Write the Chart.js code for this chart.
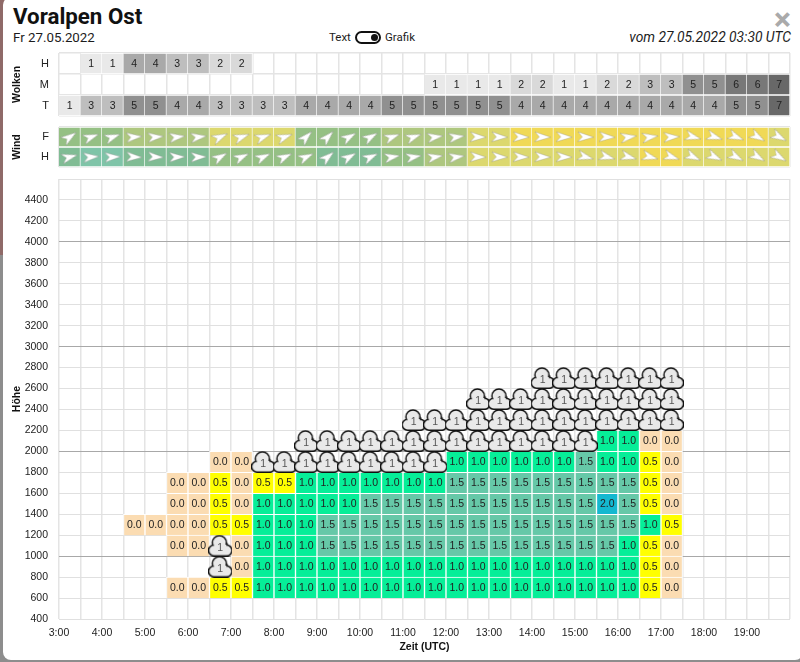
<!DOCTYPE html>
<html>
<head>
<meta charset="utf-8">
<title>Voralpen Ost</title>
<script src="https://cdn.jsdelivr.net/npm/chart.js@4/dist/chart.umd.min.js"></script>
<style>
    html, body { margin: 0; padding: 0; width: 800px; height: 662px; overflow: hidden; }
    body { background: linear-gradient(#8f6a68 0, #8f6a68 255px, #8d8d8d 255px, #8d8d8d 662px); }
    #modal { position: absolute; left: 3px; top: -3px; width: 800px; height: 663px; background: #fff; border-radius: 8px; }
    canvas { position: absolute; left: 0; }
    .txt { position: absolute; font-family: Roboto, sans-serif; color: #1c1c1c; white-space: nowrap; }
    #title { left: 13px; top: 3px; font-size: 22.3px; font-weight: 700; line-height: 26px; color: #111; }
    #date { left: 13px; top: 30px; font-size: 13.3px; line-height: 15px; }
    #run { right: 9px; top: 30px; font-size: 13.8px; line-height: 15px; font-style: italic; }
    #close { left: 774px; top: 4px; font-size: 32px; line-height: 30px; font-weight: 700; color: #aaa; }
    #toggleText { left: 329px; top: 30px; font-size: 11.5px; line-height: 15px; }
    #toggleGrafik { left: 385px; top: 30px; font-size: 11.5px; line-height: 15px; }
    #toggle { position: absolute; left: 355px; top: 31px; width: 22px; height: 9px; border: 2px solid #111; border-radius: 7px; background: #fff; }
    #toggle i { position: absolute; right: 1px; top: 1px; width: 7px; height: 7px; border-radius: 50%; background: #111; }
</style>
</head>
<body>
<div id="modal"></div>
<div class="txt" id="title">Voralpen Ost</div>
<div class="txt" id="date">Fr 27.05.2022</div>
<div class="txt" id="toggleText">Text</div>
<div id="toggle"><i></i></div>
<div class="txt" id="toggleGrafik">Grafik</div>
<div class="txt" id="run">vom 27.05.2022 03:30 UTC</div>
<div class="txt" id="close">×</div>

<canvas id="clouds" width="800" height="75" style="top:45px"></canvas>
<canvas id="wind" width="800" height="50" style="top:122px"></canvas>
<canvas id="main" width="800" height="492" style="top:170px"></canvas>

<script>
    const _ = null;
    const W = "cloud";

    // start of every half hour slot
    const slotStart = [3, 3.5, 4, 4.5, 5, 5.5, 6, 6.5, 7, 7.5, 8, 8.5, 9, 9.5, 10, 10.5, 11, 11.5,
        12, 12.5, 13, 13.5, 14, 14.5, 15, 15.5, 16, 16.5, 17, 17.5, 18, 18.5, 19, 19.5];

    // Wolken
    const cloudRowLabels = ["H", "M", "T"];
    const cloudsHigh = [_, 1, 1, 4, 4, 3, 3, 2, 2];
    const cloudsMid = [_, _, _, _, _, _, _, _, _, _, _, _, _, _, _, _, _,
        1, 1, 1, 1, 2, 2, 1, 1, 2, 2, 3, 3, 5, 5, 6, 6, 7];
    const cloudsLow = [1, 3, 3, 5, 5, 4, 4, 3, 3, 3, 3, 4, 4, 4, 4, 5, 5,
        5, 5, 5, 5, 4, 4, 4, 4, 4, 4, 4, 4, 4, 4, 5, 5, 7];
    const cloudGreys = ["", "#e9e9e9", "#d9d9d9", "#bebebe", "#a9a9a9", "#909090", "#787878", "#686868"];

    // Wind: direction as screen rotation (deg), strength as class 1-6
    const windRowLabels = ["F", "H"];
    const windFAngle = [-35, -20, -20, -5, -5, -7, -7, -25, -20, -20, -20, -45, -45, -30, -30, -20, -20,
        -8, -8, 2, 2, 2, 2, 2, 2, 3, -8, -8, -3, 15, 18, 22, 30, 28];
    const windHAngle = [-15, -5, -3, 3, 3, -2, -2, -30, -25, -25, -25, -25, -40, -30, -25, -10, -10,
        -10, -8, 2, 2, 2, 2, 2, 15, 15, 15, 15, 18, 25, 25, 28, 30, 30];
    const windFClass = [3, 3, 3, 4, 4, 4, 4, 5, 5, 5, 5, 3, 3, 3, 3, 4, 4,
        4, 4, 5, 5, 6, 6, 6, 6, 6, 6, 6, 6, 6, 6, 6, 6, 5];
    const windHClass = [2, 1, 1, 2, 2, 2, 2, 3, 3, 3, 3, 3, 2, 2, 2, 3, 3,
        4, 4, 5, 5, 5, 5, 5, 5, 5, 5, 6, 6, 5, 5, 5, 5, 5];
    const windColors = ["", "#7fc4a8", "#80bc94", "#95c084", "#aec77f", "#dcd86e", "#f0d956"];

    // Thermik: one list per height band, W = cloud base reached
    const bandFloors = [600, 800, 1000, 1200, 1400, 1600, 1800, 2000, 2200, 2400, 2600];
    const band600 = [_, _, _, _, _, 0, 0, .5, .5, 1, 1, 1, 1, 1, 1, 1, 1, 1, 1, 1, 1, 1, 1, 1, 1, 1, 1, .5, 0];
    const band800 = [_, _, _, _, _, _, _, W, 0, 1, 1, 1, 1, 1, 1, 1, 1, 1, 1, 1, 1, 1, 1, 1, 1, 1, 1, .5, 0];
    const band1000 = [_, _, _, _, _, 0, 0, W, 0, 1, 1, 1, 1.5, 1.5, 1.5, 1.5, 1.5, 1.5, 1.5, 1.5, 1.5, 1.5, 1.5, 1.5, 1.5, 1.5, 1, .5, 0];
    const band1200 = [_, _, _, 0, 0, 0, 0, .5, .5, 1, 1, 1, 1.5, 1.5, 1.5, 1.5, 1.5, 1.5, 1.5, 1.5, 1.5, 1.5, 1.5, 1.5, 1.5, 1.5, 1.5, 1, .5];
    const band1400 = [_, _, _, _, _, 0, 0, .5, 0, 1, 1, 1, 1, 1, 1.5, 1.5, 1.5, 1.5, 1.5, 1.5, 1.5, 1.5, 1.5, 1.5, 1.5, 2, 1.5, .5, 0];
    const band1600 = [_, _, _, _, _, 0, 0, .5, 0, .5, .5, 1, 1, 1, 1, 1, 1, 1, 1.5, 1.5, 1.5, 1.5, 1.5, 1.5, 1.5, 1.5, 1.5, .5, 0];
    const band1800 = [_, _, _, _, _, _, _, 0, 0, W, W, W, W, W, W, W, W, W, 1, 1, 1, 1, 1, 1, 1.5, 1, 1, .5, 0];
    const band2000 = [_, _, _, _, _, _, _, _, _, _, _, W, W, W, W, W, W, W, W, W, W, W, W, W, W, 1, 1, 0, 0];
    const band2200 = [_, _, _, _, _, _, _, _, _, _, _, _, _, _, _, _, W, W, W, W, W, W, W, W, W, W, W, W, W];
    const band2400 = [_, _, _, _, _, _, _, _, _, _, _, _, _, _, _, _, _, _, _, W, W, W, W, W, W, W, W, W, W];
    const band2600 = [_, _, _, _, _, _, _, _, _, _, _, _, _, _, _, _, _, _, _, _, _, _, W, W, W, W, W, W, W];
    const bands = [band600, band800, band1000, band1200, band1400, band1600, band1800, band2000, band2200, band2400, band2600];
    const cloudBaseValue = 1;

    function thermikColor(v) {
        if (v === 0) return "#fbdcb2";
        if (v === .5) return "#ffff00";
        if (v === 1) return "#06ee98";
        if (v === 1.5) return "#66c8a8";
        return "#14b8d0";
    }

    // small pictures used as point styles
    function arrowImage() {
        const c = document.createElement("canvas");
        c.width = 20; c.height = 20;
        const g = c.getContext("2d");
        g.beginPath();
        g.moveTo(18, 10);
        g.lineTo(2, 5);
        g.lineTo(6.5, 10);
        g.lineTo(2, 15);
        g.closePath();
        g.fillStyle = "#fff";
        g.strokeStyle = "rgba(120,120,120,.45)";
        g.lineWidth = .7;
        g.fill();
        g.stroke();
        return c;
    }

    function cloudImage() {
        const c = document.createElement("canvas");
        c.width = 24; c.height = 22;
        const g = c.getContext("2d");
        const outline = () => {
            g.beginPath();
            g.arc(5.8, 15.8, 4.7, 0, Math.PI * 2);
            g.moveTo(23, 15.8);
            g.arc(18.2, 15.8, 4.8, 0, Math.PI * 2);
            g.moveTo(17.5, 8);
            g.arc(11.2, 8, 6.3, 0, Math.PI * 2);
            g.rect(5.8, 10, 12.4, 10.5);
        };
        g.strokeStyle = "#111";
        g.lineWidth = 3;
        outline();
        g.stroke();
        g.fillStyle = "#e9e9e9";
        outline();
        g.fill("nonzero");
        return c;
    }

    // writes the number of each cell on top of the marks
    const cellLabels = {
        id: "cellLabels",
        afterDatasetsDraw(chart) {
            const g = chart.ctx;
            g.save();
            g.textAlign = "center";
            g.textBaseline = "middle";
            chart.data.datasets.forEach((ds, i) => {
                if (!ds.showValues) return;
                chart.getDatasetMeta(i).data.forEach((el, k) => {
                    const raw = ds.data[k];
                    const p = el.getCenterPoint ? el.getCenterPoint() : el;
                    g.font = "10.5px Helvetica, Arial, sans-serif";
                    g.fillStyle = raw.isCloud ? "#555" : "#222";
                    g.fillText(raw.label, p.x, p.y + (raw.isCloud ? 2 : .5));
                });
            });
            g.restore();
        }
    };

    const GRID = "#e4e4e4";

    function axisTitle(text, pad) {
        return { display: true, text, color: "#111", font: { size: 10.5, weight: "bold" }, padding: { top: pad, bottom: pad } };
    }

    // keeps every panel on the same fixed plot box
    function fixBox(size) {
        return s => {
            if (s.isHorizontal()) s.height = size; else s.width = size;
            s.paddingLeft = s.paddingRight = s.paddingTop = s.paddingBottom = 0;
        };
    }

    // hidden time axis of the two upper panels
    const hiddenTime = {
        type: "linear", min: 3, max: 20, display: true, offset: false,
        afterFit: fixBox(0),
        ticks: { display: false, stepSize: .5 },
        border: { display: false },
        grid: { color: GRID, lineWidth: 1.5, drawTicks: false, offset: false }
    };

    function rowAxis(labels, title) {
        return {
            type: "category", labels, offset: true,
            afterFit: fixBox(59),
            title: axisTitle(title, 11),
            border: { display: false },
            ticks: { color: "#222", font: { size: 11 }, padding: 10 },
            grid: { offset: true, color: GRID, lineWidth: 1.5, drawTicks: false }
        };
    }

    function rowBars(rowLabel, values, color, label) {
        const data = [];
        values.forEach((v, i) => {
            if (v === null) return;
            data.push({ x: [slotStart[i], slotStart[i] + .5], y: rowLabel, label: label ? String(v) : "", v });
        });
        return {
            type: "bar", indexAxis: "y", grouped: false, data, showValues: !!label,
            backgroundColor: c => c.raw ? color(c.raw.v) : "transparent",
            borderColor: "#fff", borderWidth: 1, barPercentage: 1, categoryPercentage: 1
        };
    }

    const baseOptions = {
        responsive: false,
        animation: false,
        events: [],
        plugins: { legend: { display: false }, tooltip: { enabled: false } }
    };

    new Chart(document.getElementById("clouds"), {
        type: "bar",
        data: {
            datasets: [
                rowBars("H", cloudsHigh, v => cloudGreys[v], true),
                rowBars("M", cloudsMid, v => cloudGreys[v], true),
                rowBars("T", cloudsLow, v => cloudGreys[v], true)
            ]
        },
        plugins: [cellLabels],
        options: {
            ...baseOptions,
            layout: { padding: { top: 8, right: 10, bottom: 4, left: 0 } },
            scales: { x: hiddenTime, y: rowAxis(cloudRowLabels, "Wolken") }
        }
    });

    function windArrows(rowLabel, angles) {
        return {
            type: "scatter", order: -1,
            data: angles.map((a, i) => ({ x: slotStart[i] + .25, y: rowLabel })),
            pointStyle: arrowImage(),
            pointRotation: angles,
            rotation: angles
        };
    }

    new Chart(document.getElementById("wind"), {
        type: "bar",
        data: {
            datasets: [
                windArrows("F", windFAngle),
                windArrows("H", windHAngle),
                rowBars("F", windFClass, v => windColors[v], false),
                rowBars("H", windHClass, v => windColors[v], false)
            ]
        },
        options: {
            ...baseOptions,
            layout: { padding: { top: 5, right: 10, bottom: 4, left: 0 } },
            scales: { x: hiddenTime, y: rowAxis(windRowLabels, "Wind") }
        }
    });

    // Thermik: floating bars on the height axis, clouds as points above them
    const thermikSets = bandFloors.map((floor, b) => ({
        type: "bar", grouped: false, showValues: true,
        data: bands[b].map((v, i) => (v === null || v === W) ? null :
            { x: slotStart[i] + .25, y: [floor, floor + 200], label: v.toFixed(1), v }).filter(Boolean),
        backgroundColor: c => c.raw ? thermikColor(c.raw.v) : "transparent",
        borderColor: "#fff", borderWidth: 1, barPercentage: 1, categoryPercentage: 1
    }));

    const cloudPoints = [];
    bandFloors.forEach((floor, b) => bands[b].forEach((v, i) => {
        if (v === W) cloudPoints.push({ x: slotStart[i] + .25, y: floor + 100, label: String(cloudBaseValue), isCloud: true });
    }));

    new Chart(document.getElementById("main"), {
        type: "bar",
        data: {
            datasets: [{
                type: "scatter", order: -1, showValues: true,
                data: cloudPoints,
                pointStyle: cloudImage()
            }, ...thermikSets]
        },
        plugins: [cellLabels],
        options: {
            ...baseOptions,
            layout: { padding: { top: 9, right: 10, bottom: 0, left: 0 } },
            scales: {
                x: {
                    type: "linear", min: 3, max: 20, offset: false,
                    afterFit: fixBox(43),
                    title: axisTitle("Zeit (UTC)", 9),
                    border: { display: false },
                    grid: { color: GRID, lineWidth: 1.5, drawTicks: false, offset: false },
                    ticks: {
                        stepSize: .5, autoSkip: false, maxRotation: 0, color: "#222", padding: 8,
                        font: { size: 10.5 },
                        callback: v => (Number.isInteger(v) && v < 20) ? `${v}:00` : ""
                    }
                },
                y: {
                    type: "linear", min: 400, max: 4600,
                    afterFit: fixBox(59),
                    title: axisTitle("Höhe", 11),
                    border: { display: false },
                    grid: {
                        drawTicks: false,
                        color: c => c.tick.value % 1000 === 0 ? "#a8a8a8" : "#e0e0e0",
                        lineWidth: 1
                    },
                    ticks: {
                        stepSize: 200, autoSkip: false, color: "#222", padding: 11,
                        font: { size: 10.5 },
                        callback: v => v < 4600 ? String(v) : ""
                    }
                }
            }
        }
    });
</script>
</body>
</html>
